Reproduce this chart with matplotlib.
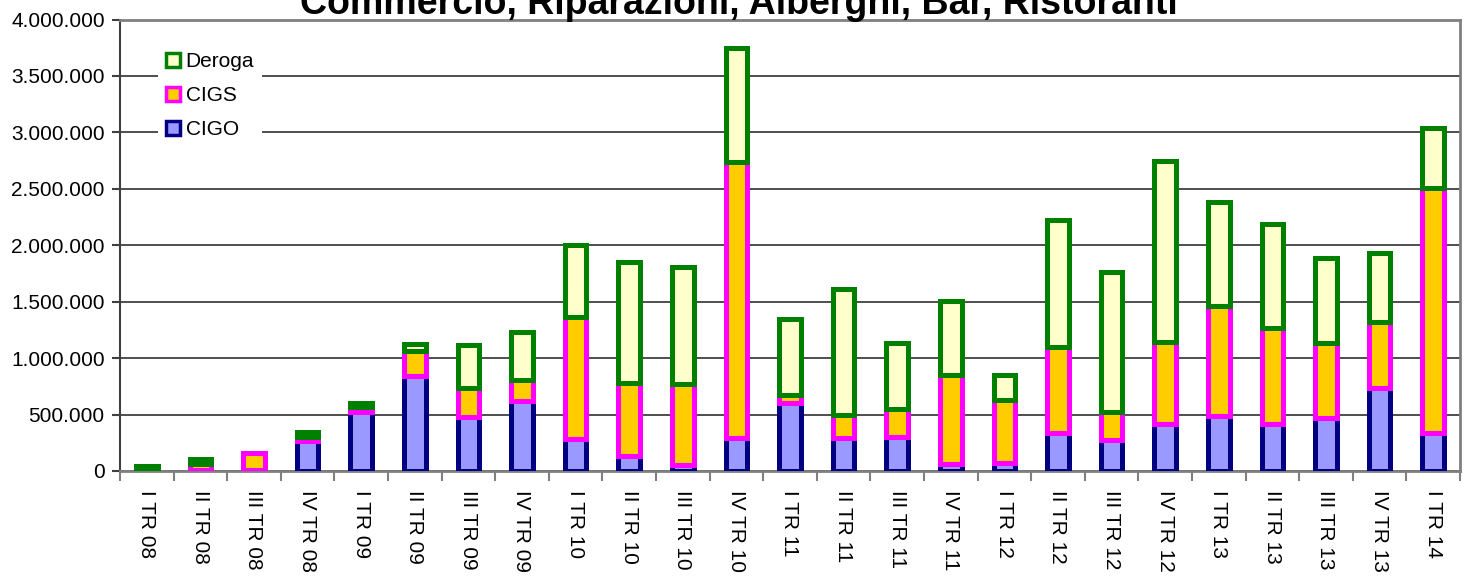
import matplotlib
matplotlib.use("Agg")
import matplotlib.pyplot as plt
from matplotlib.patches import Patch
from matplotlib.ticker import FuncFormatter, MultipleLocator
import numpy as np

categories = ["I TR 08", "II TR 08", "III TR 08", "IV TR 08",
              "I TR 09", "II TR 09", "III TR 09", "IV TR 09",
              "I TR 10", "II TR 10", "III TR 10", "IV TR 10",
              "I TR 11", "II TR 11", "III TR 11", "IV TR 11",
              "I TR 12", "II TR 12", "III TR 12", "IV TR 12",
              "I TR 13", "II TR 13", "III TR 13", "IV TR 13",
              "I TR 14"]
cigo = [5000, 5000, 5000, 265000, 520000, 840000, 475000, 620000,
        285000, 135000, 55000, 290000, 600000, 290000, 305000, 60000,
        70000, 335000, 275000, 415000, 485000, 420000, 470000, 735000,
        335000]
cigs = [15000, 60000, 155000, 35000, 45000, 225000, 260000, 190000,
        1075000, 645000, 715000, 2450000, 70000, 205000, 240000, 790000,
        555000, 760000, 250000, 725000, 975000, 845000, 660000, 585000,
        2175000]
deroga = [25000, 45000, 0, 45000, 35000, 60000, 377000, 423000,
          640000, 1070000, 1035000, 1010000, 675000, 1118000, 585000, 657000,
          225000, 1125000, 1239000, 1603000, 923000, 925000, 760000, 615000,
          530000]
title = "Commercio, Riparazioni, Alberghi, Bar, Ristoranti"

plt.rcParams['font.family'] = ['Liberation Sans', 'DejaVu Sans']

fig = plt.figure(figsize=(14.68, 5.79), dpi=100)
ax = fig.add_axes([120/1468, 1-471/579, 1340/1468, (471-19.5)/579])

x = np.arange(len(categories))
w = 0.4
lw = 3.6
cigo_a = np.array(cigo)
cigs_a = np.array(cigs)
der_a = np.array(deroga)

ax.bar(x, cigo_a, w, color='#9999FF', edgecolor='#000080', linewidth=lw, zorder=3)
ax.bar(x, cigs_a, w, bottom=cigo_a, color='#FFCC00', edgecolor='#FF00FF', linewidth=lw, zorder=3)
mask = der_a > 0
ax.bar(x[mask], der_a[mask], w, bottom=(cigo_a + cigs_a)[mask], color='#FFFFCC',
       edgecolor='#008000', linewidth=lw, zorder=3)

ax.set_xlim(-0.5, len(categories) - 0.5)
ax.set_ylim(0, 4000000)
ax.yaxis.set_major_locator(MultipleLocator(500000))
ax.yaxis.set_major_formatter(FuncFormatter(lambda v, p: f"{int(v):,}".replace(",", ".")))
ax.grid(axis='y', color='#303030', linewidth=1.2, zorder=0)

ax.set_xticks(x)
ax.set_xticklabels(categories, rotation=270, fontsize=15, va='top', ha='center')
ax.set_xticks(np.arange(len(categories) + 1) - 0.5, minor=True)
ax.tick_params(axis='x', which='major', length=0, pad=14)
ax.tick_params(axis='x', which='minor', length=7, width=1.5, color='#808080', direction='out')
ax.tick_params(axis='y', labelsize=15, length=6, width=1.5, color='#404040', pad=5)

for s in ['top', 'right']:
    ax.spines[s].set_color('#808080')
    ax.spines[s].set_linewidth(2)
ax.spines['left'].set_color('#404040')
ax.spines['left'].set_linewidth(1.5)
ax.spines['bottom'].set_color('#808080')
ax.spines['bottom'].set_linewidth(2)

handles = [Patch(facecolor='#FFFFCC', edgecolor='#008000', linewidth=2.5),
           Patch(facecolor='#FFCC00', edgecolor='#FF00FF', linewidth=2.5),
           Patch(facecolor='#9999FF', edgecolor='#000080', linewidth=2.5)]
leg = ax.legend(handles, ["Deroga", "CIGS", "CIGO"], loc='upper left',
                bbox_to_anchor=(0.028, 0.946), fontsize=15, frameon=True,
                handlelength=0.7, handleheight=0.7, handletextpad=0.25,
                labelspacing=0.72, borderpad=0.4, borderaxespad=0,
                fancybox=False)
leg.get_frame().set_edgecolor('none')
leg.get_frame().set_facecolor('white')
leg.get_frame().set_alpha(1)
leg.set_zorder(5)

fig.text(0.503, 1 - 14/579, title, ha='center', va='baseline', fontsize=27,
         fontweight='bold')

fig.savefig("out.png", dpi=100)
